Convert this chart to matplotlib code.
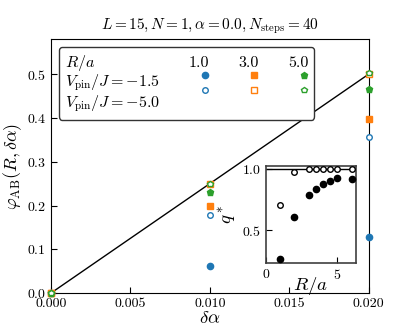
import matplotlib
matplotlib.use('Agg')
import matplotlib.pyplot as plt
from matplotlib.lines import Line2D

plt.rcParams['font.family'] = 'serif'
plt.rcParams['font.serif'] = ['cmr10']
plt.rcParams['mathtext.fontset'] = 'cm'
plt.rcParams['axes.formatter.use_mathtext'] = True
plt.rcParams['font.size'] = 10

# main panel data
dalpha = [0.0, 0.01, 0.02]
R_vals = [1.0, 3.0, 5.0]
phi_v15 = [[0.0, 0.062, 0.129],   # R/a = 1
           [0.0, 0.198, 0.397],   # R/a = 3
           [0.0, 0.2315, 0.466]]  # R/a = 5
phi_v50 = [[0.0, 0.178, 0.356],
           [0.0, 0.250, 0.500],
           [0.0, 0.250, 0.502]]
ref_x = [0.0, 0.02]
ref_y = [0.0, 0.5]

# inset data
R_inset = [1, 2, 3, 3.5, 4, 4.5, 5, 6]
q_v15 = [0.262, 0.604, 0.787, 0.839, 0.880, 0.904, 0.924, 0.916]
q_v50 = [0.705, 0.973, 0.997, 0.997, 0.997, 0.997, 0.997, 0.997]

colors = ['C0', 'C1', 'C2']
markers = ['o', 's', 'p']

fig = plt.figure(figsize=(4.09, 3.30), dpi=100)
ax = fig.add_axes([0.1247, 0.112, 0.7763, 0.769])

ax.plot(ref_x, ref_y, color='k', lw=1.0, zorder=1)

h15, h50 = [], []
for i in range(len(R_vals)):
    l1, = ax.plot(dalpha, phi_v15[i], ls='none', marker=markers[i], color=colors[i],
                  ms=4.5, clip_on=False, zorder=3)
    l2, = ax.plot(dalpha, phi_v50[i], ls='none', marker=markers[i], color=colors[i],
                  mfc='white', mew=1.0, ms=4.0, clip_on=False, zorder=3)
    h15.append(l1)
    h50.append(l2)

ax.set_xlim(0, 0.02)
ax.set_ylim(0, 0.58)
ax.set_xticks([0, 0.005, 0.01, 0.015, 0.02])
ax.set_xticklabels(['0.000', '0.005', '0.010', '0.015', '0.020'])
ax.set_yticks([0, 0.1, 0.2, 0.3, 0.4, 0.5])
ax.tick_params(direction='in', length=4, top=False, right=False)
ax.set_xlabel(r'$\delta\alpha$', fontsize=13.5, labelpad=-1)
ax.set_ylabel(r'$\varphi_{\mathrm{AB}}(R,\delta\alpha)$', fontsize=13, labelpad=2)
ax.set_title(r'$L=15, N=1, \alpha=0.0, N_{\mathrm{steps}}=40$', fontsize=11, pad=7)

# table-like legend
blank = Line2D([], [], ls='none', marker='none')
handles = [blank, blank, blank]
labels = [r'$R/a$', r'$V_{\mathrm{pin}}/J=-1.5$', r'$V_{\mathrm{pin}}/J=-5.0$']
for i, R in enumerate(R_vals):
    handles += [blank, h15[i], h50[i]]
    labels += ['%.1f' % R, '', '']
leg = ax.legend(handles, labels, ncol=4, loc='upper left', fontsize=11.5,
                handlelength=2.04, handletextpad=-2.02, columnspacing=1.8,
                labelspacing=0.0, borderpad=0.35, fancybox=True,
                framealpha=1, edgecolor='0.2')
leg.get_frame().set_linewidth(1.0)

# inset
axin = fig.add_axes([0.6496, 0.2021, 0.2210, 0.2949])
axin.axhline(1.0, color='k', lw=1.0, zorder=1)
axin.plot(R_inset, q_v15, 'o', color='k', ms=4.5, zorder=3)
axin.plot(R_inset, q_v50, 'o', color='k', mfc='white', mew=1.0, ms=4.0, zorder=3)
axin.set_xlim(0, 6.3)
axin.set_ylim(0.227, 1.025)
axin.set_xticks([0, 5])
axin.set_yticks([0.5, 1.0])
axin.tick_params(direction='in', length=4)
axin.set_xlabel(r'$R/a$', fontsize=13.5, labelpad=-5)
axin.set_ylabel(r'$q^*$', fontsize=13.5, labelpad=3)
for s in axin.spines.values():
    s.set_color('0.25')
    s.set_linewidth(1.2)

fig.savefig('out.png', dpi=100)
